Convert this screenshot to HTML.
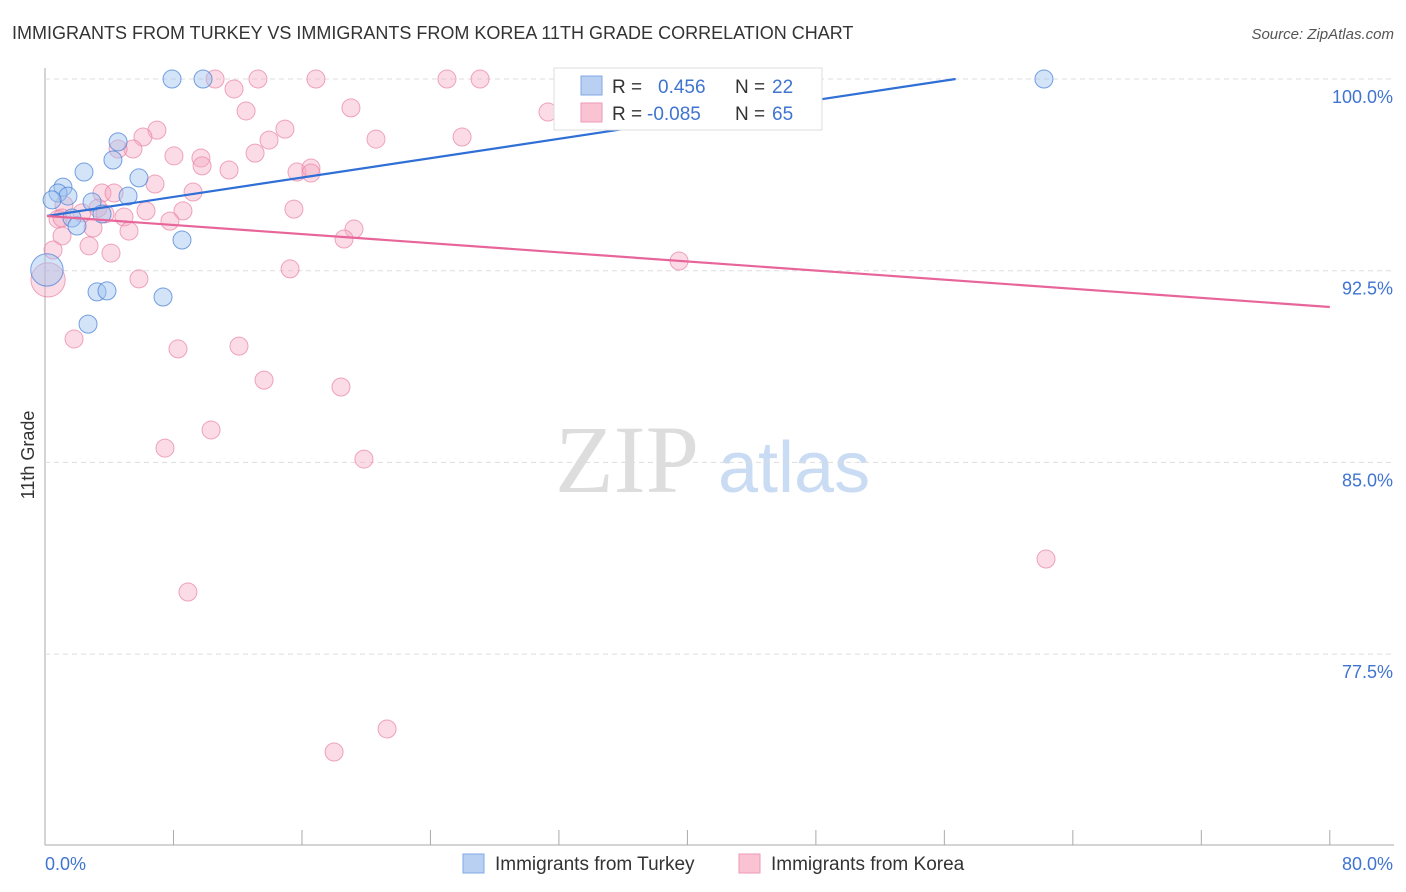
<!DOCTYPE html>
<html><head><meta charset="utf-8"><style>
body{margin:0;background:#fff;font-family:"Liberation Sans",sans-serif}
svg{display:block}
</style></head><body>
<svg id="c" width="1406" height="892">
<text x="12" y="39" font-size="18" fill="#333">IMMIGRANTS FROM TURKEY VS IMMIGRANTS FROM KOREA 11TH GRADE CORRELATION CHART</text>
<text x="1394" y="39" font-size="15" fill="#555" font-style="italic" text-anchor="end">Source: ZipAtlas.com</text>
<text x="555" y="492" font-size="96" fill="#ddd" font-family="Liberation Serif,serif">ZIP</text>
<text x="718" y="492" font-size="72" fill="#c9dcf3">atlas</text>
<text transform="translate(34,455) rotate(-90)" font-size="18" fill="#333" text-anchor="middle">11th Grade</text>
<g id="grid"></g><g id="pts"></g><g id="trend"></g>
<g>
<rect x="554" y="68" width="268" height="62" fill="#fff" stroke="#ddd"/>
<rect x="581" y="76" width="21" height="19" fill="#b9d0f3" stroke="#7fa7e6"/>
<rect x="581" y="103" width="21" height="19" fill="#f9c3d4" stroke="#ee9ab6"/>
<text x="612" y="93" font-size="19" fill="#333">R =</text><text x="658" y="93" font-size="19" fill="#3f74d0">0.456</text>
<text x="735" y="93" font-size="19" fill="#333">N =</text><text x="772" y="93" font-size="19" fill="#3f74d0">22</text>
<text x="612" y="120" font-size="19" fill="#333">R =</text><text x="647" y="120" font-size="19" fill="#3f74d0">-0.085</text>
<text x="735" y="120" font-size="19" fill="#333">N =</text><text x="772" y="120" font-size="19" fill="#3f74d0">65</text>
</g>
<g>
<rect x="463" y="854" width="21" height="19" fill="#b9d0f3" stroke="#7fa7e6"/>
<text x="495" y="870" font-size="19" fill="#333">Immigrants from Turkey</text>
<rect x="739" y="854" width="21" height="19" fill="#f9c3d4" stroke="#ee9ab6"/>
<text x="771" y="870" font-size="19" fill="#333">Immigrants from Korea</text>
</g>
</svg>
<script>
const xTickLabels=["0.0%","80.0%"];
const yTicks=[100,92.5,85,77.5];
const yTickLabels=["100.0%","92.5%","85.0%","77.5%"];
const turkeyX=[7.91,9.84,62.2,4.55,4.23,2.43,5.85,1.12,0.81,1.43,5.17,0.44,2.93,3.55,1.68,1.99,8.53,0.12,3.24,3.86,7.35,2.68];
const turkeyY=[100,100,100,97.54,96.83,96.36,96.13,95.77,95.54,95.42,95.42,95.27,95.19,94.72,94.56,94.25,93.70,92.53,91.67,91.71,91.47,90.41];
const turkeySize=[1,1,1,1,1,1,1,1,1,1,1,1,1,1,1,1,1,1.8,1,1,1,1];
const koreaX=[10.59,13.26,16.87,25.03,27.09,39.48,11.77,19.05,12.52,31.32,6.97,14.94,20.61,25.97,13.95,6.10,5.48,4.55,8.03,9.71,13.08,9.78,11.46,15.69,16.56,16.56,6.85,3.55,4.30,9.22,1.18,3.30,2.30,6.29,8.59,15.50,4.92,0.81,7.78,2.99,5.23,19.24,1.06,18.62,2.74,0.50,4.11,15.26,39.48,5.85,0.19,1.81,8.28,12.08,13.64,18.43,10.34,7.47,19.86,62.33,8.90,21.30,18.0,3.74,1.06];
const koreaY=[100,100,100,100,100,100,99.61,98.87,98.75,98.71,98.0,98.04,97.65,97.73,97.61,97.73,97.26,97.26,96.99,96.91,97.10,96.60,96.44,96.36,96.52,96.32,95.89,95.54,95.54,95.58,95.07,94.95,94.76,94.84,94.84,94.91,94.60,94.52,94.44,94.17,94.05,94.13,93.86,93.74,93.47,93.31,93.19,92.57,92.88,92.18,92.14,89.83,89.44,89.55,88.22,87.95,86.27,85.56,85.13,81.22,79.93,74.57,73.67,94.72,94.56];
const koreaSize=koreaX.map((_,i)=>i===50?1.9:1);
const turkeyTrend=[0.12,94.64,56.7,100];
const koreaTrend=[0.12,94.64,80,91.08];
const X=v=>45+v*16.06, Y=v=>79+(100-v)*25.56;
const NS="http://www.w3.org/2000/svg";
function mk(t,a,p){const e=document.createElementNS(NS,t);for(const k in a)e.setAttribute(k,a[k]);p.appendChild(e);return e;}
const grid=document.getElementById('grid');
mk('line',{x1:45,y1:68,x2:45,y2:845,stroke:'#aaa'},grid);
mk('line',{x1:45,y1:845,x2:1394,y2:845,stroke:'#aaa'},grid);
for(let i=0;i<=10;i++){const l=mk('line',{x1:X(i*8),y1:830,x2:X(i*8),y2:845,stroke:'#aaa'},grid);

}
yTicks.forEach((v,i)=>{const l=mk('line',{x1:45,y1:Y(v),x2:1394,y2:Y(v),stroke:'#ddd','stroke-dasharray':'5,4'},grid);


const t=mk('text',{x:1393,y:Y(v)+24,'font-size':18,fill:'#3f74d0','text-anchor':'end'},grid);t.textContent=yTickLabels[i];

});
[[0,45,'start'],[80,1393,'end']].forEach((d,i)=>{const t=mk('text',{x:d[1],y:870,'font-size':18,fill:'#3f74d0','text-anchor':d[2]},grid);t.textContent=xTickLabels[i];

});
const pts=document.getElementById('pts');
koreaX.forEach((x,i)=>{const c=mk('circle',{cx:X(x),cy:Y(koreaY[i]),r:9*koreaSize[i],fill:'rgba(246,168,193,0.4)',stroke:'rgba(232,130,163,0.7)'},pts);

});
turkeyX.forEach((x,i)=>{const c=mk('circle',{cx:X(x),cy:Y(turkeyY[i]),r:9*turkeySize[i],fill:'rgba(160,195,240,0.45)',stroke:'rgba(75,130,215,0.75)'},pts);

});
const tr=document.getElementById('trend');
const l1=mk('line',{x1:X(turkeyTrend[0]),y1:Y(turkeyTrend[1]),x2:X(turkeyTrend[2]),y2:Y(turkeyTrend[3]),stroke:'#2f6fd6','stroke-width':2.2},tr);


const l2=mk('line',{x1:X(koreaTrend[0]),y1:Y(koreaTrend[1]),x2:X(koreaTrend[2]),y2:Y(koreaTrend[3]),stroke:'#e8659a','stroke-width':2.2},tr);


</script>
</body></html>
